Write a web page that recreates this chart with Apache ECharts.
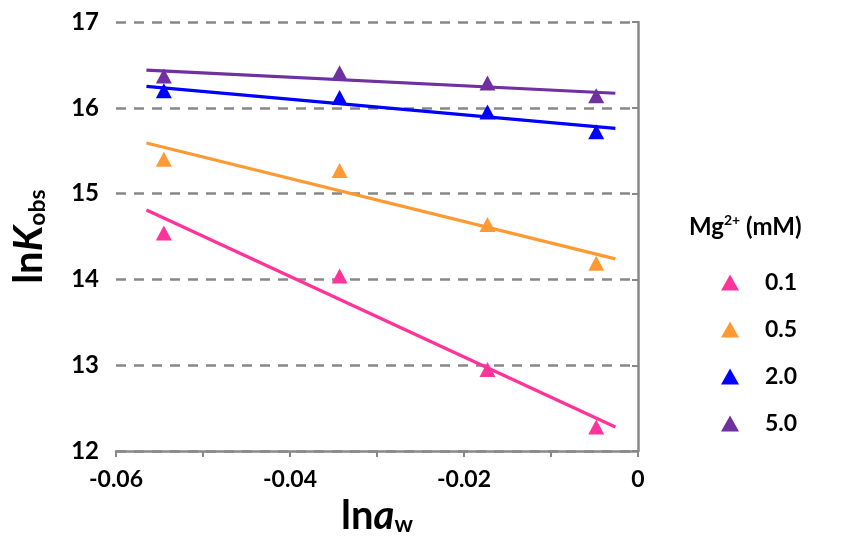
<!DOCTYPE html>
<html>
<head>
<meta charset="utf-8">
<script src="https://cdn.jsdelivr.net/npm/echarts@6/dist/echarts.min.js"></script>
<style>
  html, body { margin: 0; padding: 0; background: #fff; }
  #chart { width: 841px; height: 541px; }
</style>
</head>
<body>
<div id="chart"></div>
<script>
// ln(a_w) positions of the measurements
var lnAw = [-0.0545, -0.0343, -0.0173, -0.0048];

// Mg2+ concentrations (mM)
var groups = ['0.1', '0.5', '2.0', '5.0'];
var colors = ['#FF3399', '#FF9933', '#0000FF', '#7030A0'];

// measured lnK_obs
var mg01 = [14.54, 14.04, 12.95, 12.28];
var mg05 = [15.40, 15.27, 14.64, 14.19];
var mg20 = [16.20, 16.12, 15.95, 15.72];
var mg50 = [16.37, 16.41, 16.29, 16.14];

// fitted lines, read at both ends
var fitX = [-0.0565, -0.0026];
var fit01 = [14.81, 12.28];
var fit05 = [15.59, 14.24];
var fit20 = [16.25, 15.76];
var fit50 = [16.44, 16.17];

var xTicks = [-0.06, -0.04, -0.02, 0];

var measured = [mg01, mg05, mg20, mg50];
var fits = [fit01, fit05, fit20, fit50];

var font = 'Lato, "Open Sans", sans-serif';

var series = [];
fits.forEach(function (f, i) {
  series.push({
    name: 'fit ' + groups[i],
    type: 'line',
    data: fitX.map(function (x, j) { return [x, f[j]]; }),
    showSymbol: false,
    symbol: 'none',
    lineStyle: { color: colors[i], width: 3.2 },
    z: 2,
    silent: true
  });
});
measured.forEach(function (m, i) {
  series.push({
    name: groups[i],
    type: 'scatter',
    data: lnAw.map(function (x, j) { return [x, m[j]]; }),
    symbol: 'triangle',
    symbolSize: [16, 15],
    itemStyle: { color: colors[i], opacity: 1 },
    z: 3
  });
});

var option = {
  animation: false,
  backgroundColor: '#fff',
  textStyle: { fontFamily: font },
  title: {
    text: '{a|Mg}{b|2+}{a| (mM)}',
    left: 689,
    top: 213,
    padding: 0,
    textStyle: {
      rich: {
        a: { fontFamily: font, fontWeight: 'bold', fontSize: 24, color: '#000', lineHeight: 28 },
        b: { fontFamily: font, fontWeight: 'bold', fontSize: 14, color: '#000', verticalAlign: 'top', lineHeight: 28 }
      }
    }
  },
  legend: {
    data: groups,
    orient: 'vertical',
    left: 716,
    top: 266,
    icon: 'triangle',
    itemWidth: 18,
    itemHeight: 16,
    itemGap: 24,
    textStyle: {
      fontFamily: font,
      fontWeight: 'bold',
      fontSize: 23,
      color: '#000',
      lineHeight: 20,
      padding: [0, 0, 0, 21]
    }
  },
  grid: { left: 116, right: 203, top: 22, bottom: 86, containLabel: false },
  xAxis: {
    type: 'value',
    min: -0.06,
    max: 0,
    interval: 0.01,
    name: '{a|ln}{b|a}{c|w}',
    nameLocation: 'middle',
    nameGap: 43,
    nameTextStyle: {
      rich: {
        a: { fontFamily: font, fontWeight: 'bold', fontSize: 40, color: '#000' },
        b: { fontFamily: font, fontWeight: 'bold', fontStyle: 'italic', fontSize: 40, color: '#000' },
        c: { fontFamily: font, fontWeight: 'bold', fontSize: 23, color: '#000', verticalAlign: 'bottom', padding: [16, 0, 0, 0] }
      }
    },
    axisLine: { show: true, lineStyle: { color: '#888', width: 2.5 } },
    axisTick: { show: true, inside: false, length: 6, lineStyle: { color: '#888', width: 2 } },
    axisLabel: {
      margin: 17,
      fontFamily: font,
      fontWeight: 'bold',
      fontSize: 23,
      color: '#000',
      formatter: function (v) {
        var t = xTicks.find(function (x) { return Math.abs(x - v) < 1e-9; });
        if (t === undefined) return '';
        return t === 0 ? '0' : t.toFixed(2);
      }
    },
    splitLine: { show: false }
  },
  yAxis: {
    type: 'value',
    min: 12,
    max: 17,
    interval: 1,
    name: '{a|ln}{b|K}{c|obs}',
    nameLocation: 'middle',
    nameGap: 67,
    nameRotate: 90,
    nameTextStyle: {
      rich: {
        a: { fontFamily: font, fontWeight: 'bold', fontSize: 40, color: '#000' },
        b: { fontFamily: font, fontWeight: 'bold', fontStyle: 'italic', fontSize: 40, color: '#000' },
        c: { fontFamily: font, fontWeight: 'bold', fontSize: 23, color: '#000', verticalAlign: 'bottom', padding: [16, 0, 0, 0] }
      }
    },
    axisLine: { show: true, lineStyle: { color: '#888', width: 2.5 } },
    axisTick: { show: true, inside: false, length: 6, lineStyle: { color: '#888', width: 2 } },
    axisLabel: {
      margin: 17,
      fontFamily: font,
      fontWeight: 'bold',
      fontSize: 24,
      color: '#000'
    },
    splitLine: {
      show: true,
      lineStyle: { color: '#888', width: 2.5, type: [10, 8] }
    }
  },
  series: series
};

var myChart = echarts.init(document.getElementById('chart'));
myChart.setOption(option);
</script>
</body>
</html>
